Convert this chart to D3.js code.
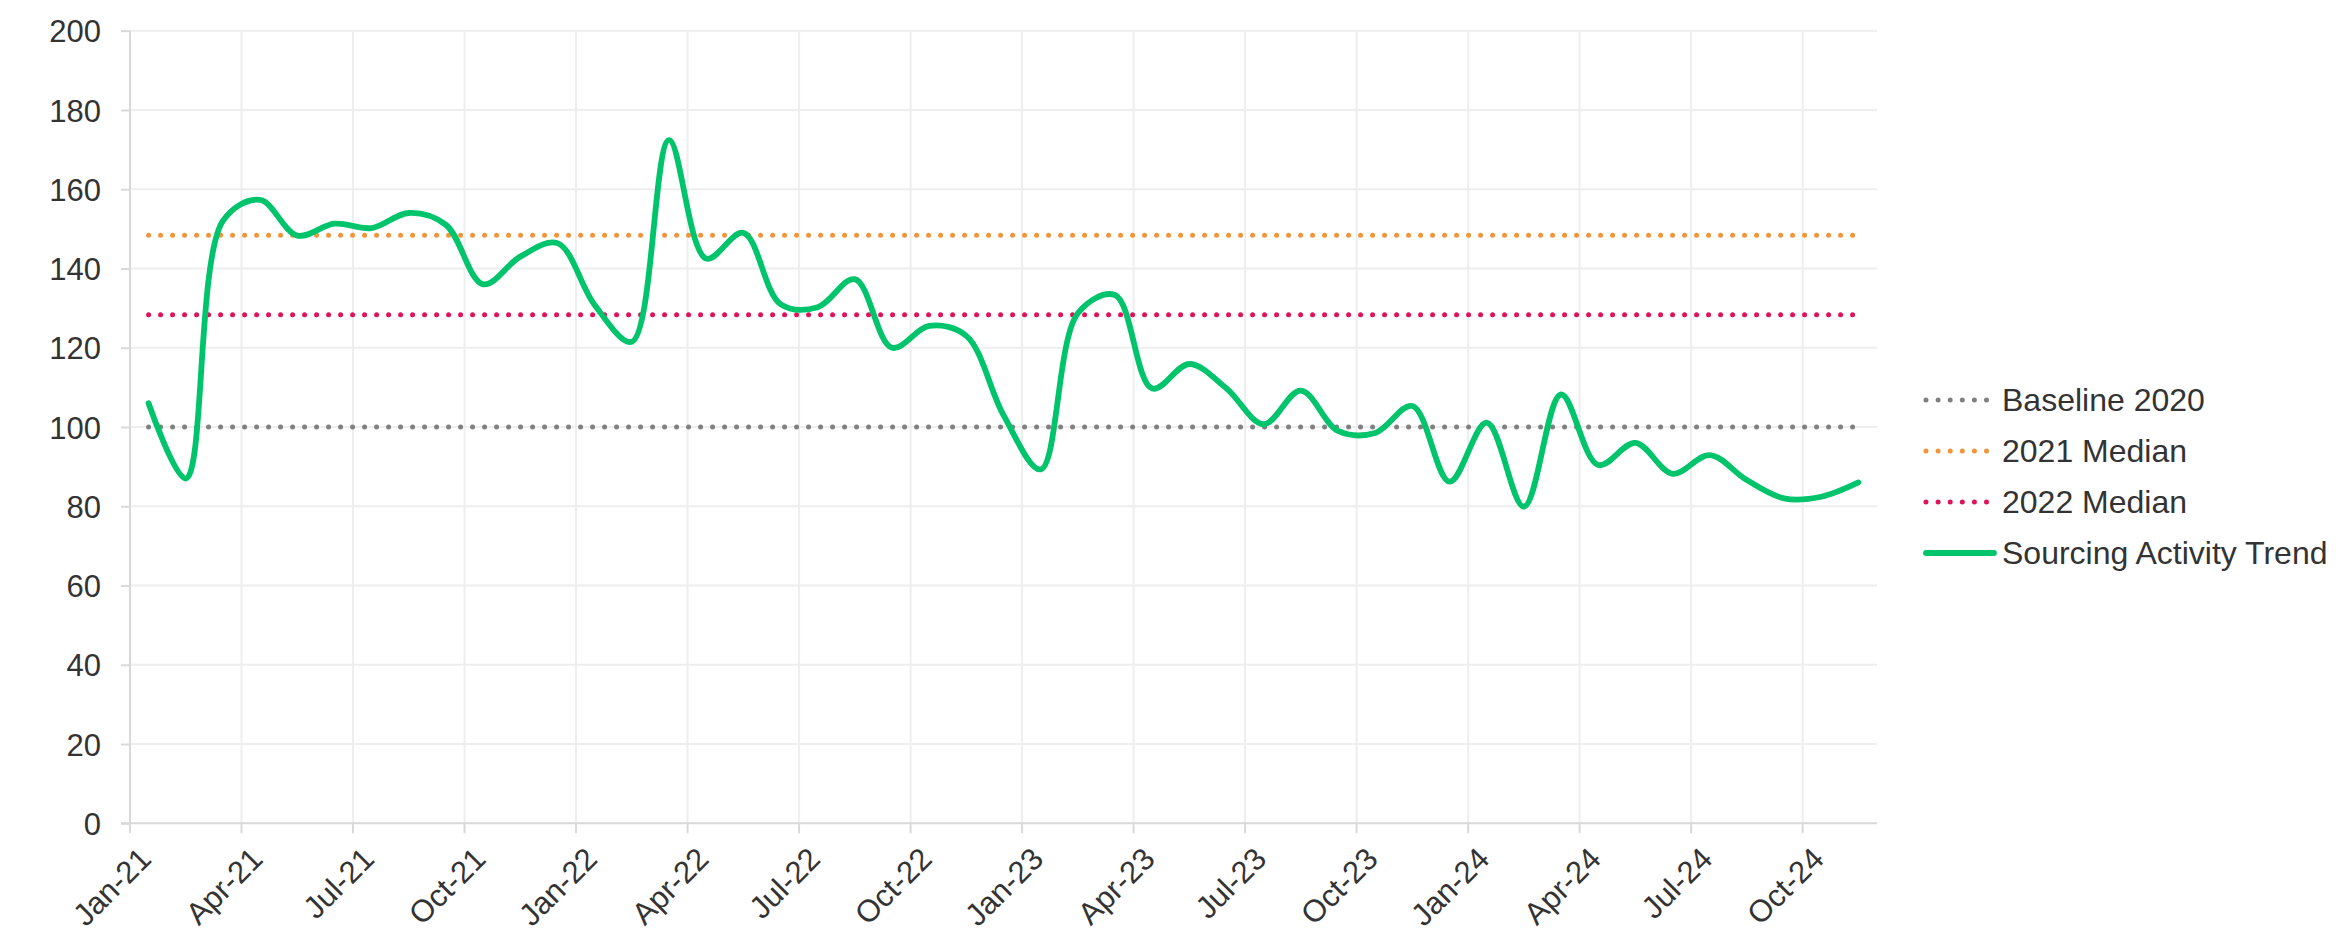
<!DOCTYPE html>
<html><head><meta charset="utf-8">
<script src="https://cdn.jsdelivr.net/npm/d3@7"></script>
<style>
html,body{margin:0;padding:0;background:#fff;}
svg{display:block;}
text{font-family:"Liberation Sans",Arial,Helvetica,sans-serif;fill:#333;}
</style>
</head><body>
<svg id="chart" width="2336" height="936"></svg>
<script>
// ---- data ----
const months = ["Jan-21","Feb-21","Mar-21","Apr-21","May-21","Jun-21","Jul-21","Aug-21","Sep-21","Oct-21","Nov-21","Dec-21",
  "Jan-22","Feb-22","Mar-22","Apr-22","May-22","Jun-22","Jul-22","Aug-22","Sep-22","Oct-22","Nov-22","Dec-22",
  "Jan-23","Feb-23","Mar-23","Apr-23","May-23","Jun-23","Jul-23","Aug-23","Sep-23","Oct-23","Nov-23","Dec-23",
  "Jan-24","Feb-24","Mar-24","Apr-24","May-24","Jun-24","Jul-24","Aug-24","Sep-24","Oct-24","Nov-24"];
const activity = [106, 87, 152, 157.3, 148.3, 151.3, 150.2, 154, 151, 136, 143, 146.4,
  130.8, 121.5, 172.4, 142.5, 149, 131, 130.2, 137.3, 120, 125.5, 123, 103,
  89.3, 128.7, 133.3, 109.7, 115.9, 109.7, 100.7, 109.2, 99, 98.5, 105.3, 86.2,
  101.1, 79.9, 108.2, 90.4, 96, 88.2, 92.9, 86.6, 82, 82.4, 86];
const refNames = ["Baseline 2020", "2021 Median", "2022 Median"];
const refValues = [100, 148.4, 128.3];
const refColors = ["#808080", "#F0953B", "#E0125A"];
const trendName = "Sourcing Activity Trend";
const trendColor = "#00C46B";
const yTicks = [0, 20, 40, 60, 80, 100, 120, 140, 160, 180, 200];
const xTickLabels = ["Jan-21","Apr-21","Jul-21","Oct-21","Jan-22","Apr-22","Jul-22","Oct-22",
  "Jan-23","Apr-23","Jul-23","Oct-23","Jan-24","Apr-24","Jul-24","Oct-24"];

// ---- layout ----
const svg = d3.select("#chart");
const X0 = 130, X1 = 1877, Y0 = 823.3, Y1 = 30.7;
const x = d3.scaleBand().domain(months).range([X0, X1]).padding(0);
const y = d3.scaleLinear().domain([0, 200]).range([Y0, Y1]);
const cx = m => x(m) + x.bandwidth() / 2;

// gridlines
const grid = svg.append("g");
grid.selectAll("line.h").data(yTicks.filter(v => v > 0)).join("line")
  .attr("x1", X0).attr("x2", X1).attr("y1", d => y(d)).attr("y2", d => y(d))
  .attr("stroke", "#eeeeee").attr("stroke-width", 2);
grid.selectAll("line.v").data(xTickLabels.slice(1)).join("line")
  .attr("x1", d => x(d)).attr("x2", d => x(d)).attr("y1", Y1).attr("y2", Y0)
  .attr("stroke", "#eeeeee").attr("stroke-width", 2);

// y axis
const yAxis = svg.append("g").attr("transform", `translate(${X0},0)`)
  .call(d3.axisLeft(y).tickValues(yTicks).tickSize(9).tickPadding(20));
yAxis.select(".domain").attr("stroke", "#d9d9d9").attr("stroke-width", 2)
  .attr("d", `M0,${Y0}V${Y1}`);
yAxis.selectAll(".tick line").attr("stroke", "#d9d9d9").attr("stroke-width", 2);
yAxis.selectAll(".tick text").attr("font-size", 31).attr("dy", "0.36em")
  .attr("fill", "#333").style("font-family", '"Liberation Sans",Arial,sans-serif');

// x axis
const xAxis = svg.append("g");
xAxis.append("line").attr("x1", X0 - 9).attr("x2", X1).attr("y1", Y0).attr("y2", Y0)
  .attr("stroke", "#d9d9d9").attr("stroke-width", 2);
xAxis.selectAll("line.tk").data(xTickLabels).join("line")
  .attr("x1", d => x(d)).attr("x2", d => x(d)).attr("y1", Y0).attr("y2", Y0 + 10)
  .attr("stroke", "#d9d9d9").attr("stroke-width", 2);
xAxis.selectAll("text").data(xTickLabels).join("text")
  .attr("text-anchor", "end").attr("font-size", 31)
  .attr("transform", d => `translate(${x(d) + 23},${Y0 + 37.5}) rotate(-45)`)
  .text(d => d);

// reference dotted lines
const flat = v => months.map(m => ({m, v}));
const lineGen = d3.line().x(d => cx(d.m)).y(d => y(d.v));
refValues.forEach((v, i) => {
  svg.append("path").attr("d", lineGen(flat(v)))
    .attr("fill", "none").attr("stroke", refColors[i]).attr("stroke-width", 5)
    .attr("stroke-linecap", "round").attr("stroke-dasharray", "0 12");
});

// trend line
const trendLine = d3.line().x((d, i) => cx(months[i])).y(d => y(d))
  .curve(d3.curveCatmullRom.alpha(0.5));
svg.append("path").attr("d", trendLine(activity))
  .attr("fill", "none").attr("stroke", trendColor).attr("stroke-width", 5.8)
  .attr("stroke-linecap", "round").attr("stroke-linejoin", "round");

// legend
const legend = svg.append("g");
const items = refNames.map((n, i) => ({name: n, color: refColors[i], dotted: true}))
  .concat([{name: trendName, color: trendColor, dotted: false}]);
items.forEach((it, i) => {
  const ry = 400 + i * 51;
  if (it.dotted) {
    legend.append("line").attr("x1", 1926).attr("x2", 1987).attr("y1", ry).attr("y2", ry)
      .attr("stroke", it.color).attr("stroke-width", 5).attr("stroke-linecap", "round")
      .attr("stroke-dasharray", "0 12.1");
  } else {
    legend.append("line").attr("x1", 1926).attr("x2", 1994).attr("y1", ry).attr("y2", ry)
      .attr("stroke", it.color).attr("stroke-width", 5.8).attr("stroke-linecap", "round");
  }
  legend.append("text").attr("x", 2002).attr("y", ry).attr("dy", "0.35em")
    .attr("font-size", 32).text(it.name);
});
</script>
</body></html>
